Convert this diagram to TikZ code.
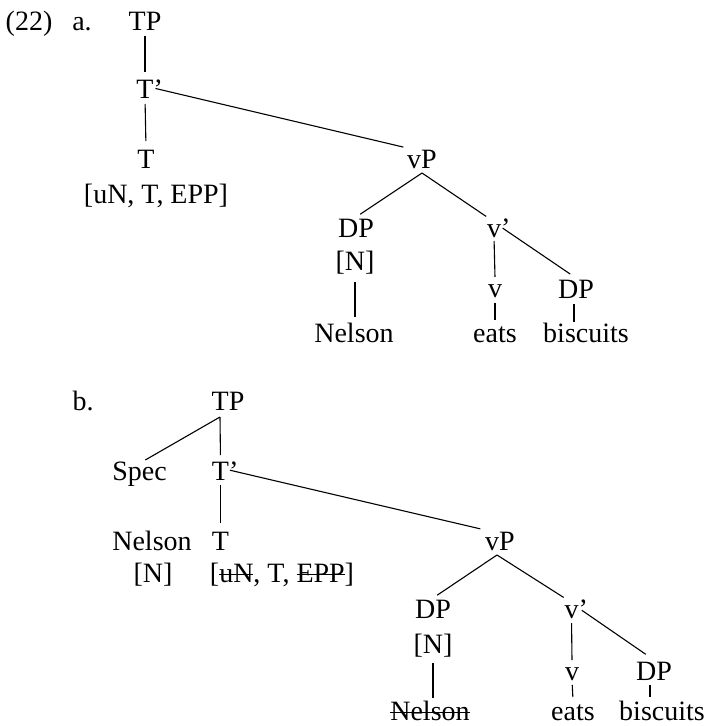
\documentclass[tikz,border=0pt]{standalone}
\usepackage{fontspec}
\setmainfont{Liberation Serif}
\usetikzlibrary{calc}
% struck-through text: a rule laid over the word at mid x-height
\newsavebox\strkbox
\newcommand{\strk}[1]{\sbox\strkbox{#1}\rlap{\rule[7pt]{\wd\strkbox}{1.3pt}}\usebox\strkbox}
\begin{document}
\begin{tikzpicture}[x=1pt,y=-1pt,
  lbl/.style={anchor=base, inner sep=0pt, outer sep=0pt, text height=20pt, text depth=0pt,
              font=\fontsize{28}{34}\selectfont},
  br/.style={line width=1.1pt}]
\useasboundingbox (0,0) rectangle (709,726);

% ---------- (22a) ----------
\node[lbl] (numa) at (29,30) {(22)};
\node[lbl] (laba) at (82,30) {a.};
\node[lbl] (tpa)  at (145,30) {TP};
\node[lbl] (tbara) at (145,98) {T\rlap{’}};
\node[lbl] (ta)   at (146,168) {T};
\node[lbl] (fta)  at (156,203) {[uN, T, EPP]};
\node[lbl] (vpa)  at (422,168) {vP};
\node[lbl] (dpa)  at (356,237) {DP};
\node[lbl] (na)   at (355,270) {[N]};
\node[lbl] (nelsa) at (354,342) {Nelson};
\node[lbl] (vba)  at (494,237) {v\rlap{’}};
\node[lbl] (va)   at (495,297) {v};
\node[lbl] (eatsa) at (495,342) {eats};
\node[lbl] (dpra) at (576,298) {DP};
\node[lbl] (bisca) at (586,342) {biscuits};

\coordinate (vpa-f) at ($(vpa.south)+(0,5)$);

\draw[br, shorten <=6pt, shorten >=6pt] (tpa.south) -- (tbara.north);
\draw[br, shorten <=6pt, shorten >=7pt] (tbara.south) -- (ta.north);
\draw[br, shorten <=2pt, shorten >=4pt] (tbara.east) -- (vpa.north west);
\draw[br, shorten >=5pt] (vpa-f) -- (dpa.north);
\draw[br, shorten >=1pt] (vpa-f) -- (vba.north west);
\draw[br, shorten <=4pt] (vba.south) -- (va.north);
\draw[br, shorten <=6pt, shorten >=2pt] (va.south) -- (eatsa.north);
\draw[br, shorten <=2pt, shorten >=7pt] (vba.east) -- (dpra.north);
\draw[br, shorten <=6pt] ([xshift=-2pt]dpra.south) -- ([xshift=-2pt]dpra.south |- bisca.north);
\draw[br, shorten <=12pt, shorten >=5pt] (na.south) -- (na.south |- nelsa.north);

% ---------- (22b) ----------
\node[lbl] (labb) at (83,410) {b.};
\node[lbl] (tpb)  at (228,410) {TP};
\node[lbl] (specb) at (139.5,480) {Spec};
\node[lbl] (tbarb) at (220.5,480) {T\rlap{’}};
\node[lbl] (nelsl) at (152,550) {Nelson};
\node[lbl] (nl)   at (153,582) {[N]};
\node[lbl] (tb)   at (220.5,550) {T};
\node[lbl] (ftb)  at (282,582) {[\strk{uN}, T, \strk{EPP}]};
\node[lbl] (vpb)  at (500,550) {vP};
\node[lbl] (dpb)  at (433,618) {DP};
\node[lbl] (nb)   at (433,653) {[N]};
\node[lbl] (nelsb) at (430,720) {\strk{Nelson}};
\node[lbl] (vbb)  at (571.5,618) {v\rlap{’}};
\node[lbl] (vb)   at (572,680) {v};
\node[lbl] (eatsb) at (573,720) {eats};
\node[lbl] (dprb) at (654,680) {DP};
\node[lbl] (biscb) at (662,720) {biscuits};

\coordinate (tpb-f) at ($(tpb.south)+(-8,7)$);
\coordinate (vpb-f) at ($(vpb.south)+(-3,5)$);

\draw[br] (tpb-f) -- (specb.60);
\draw[br, shorten >=5pt] (tpb-f) -- (tbarb.north);
\draw[br, shorten <=1pt, shorten >=5pt] (tbarb.east) -- (vpb.north west);
\draw[br, shorten <=5pt, shorten >=7pt] (tbarb.south) -- (tb.north);
\draw[br, shorten >=5pt] (vpb-f) -- (dpb.north);
\draw[br, shorten >=1pt] (vpb-f) -- (vbb.north west);
\draw[br, shorten <=5pt] (vbb.south) -- (vb.north);
\draw[br, shorten <=5pt, shorten >=3pt] (vb.south) -- (eatsb.north);
\draw[br, shorten <=4pt, shorten >=10pt] (vbb.east) -- (dprb.north);
\draw[br, shorten <=5pt, shorten >=3pt] ([xshift=-4pt]dprb.south) -- ([xshift=-4pt]dprb.south |- biscb.north);
\draw[br, shorten <=10pt, shorten >=2pt] (nb.south) -- (nb.south |- nelsb.north);
\end{tikzpicture}
\end{document}
